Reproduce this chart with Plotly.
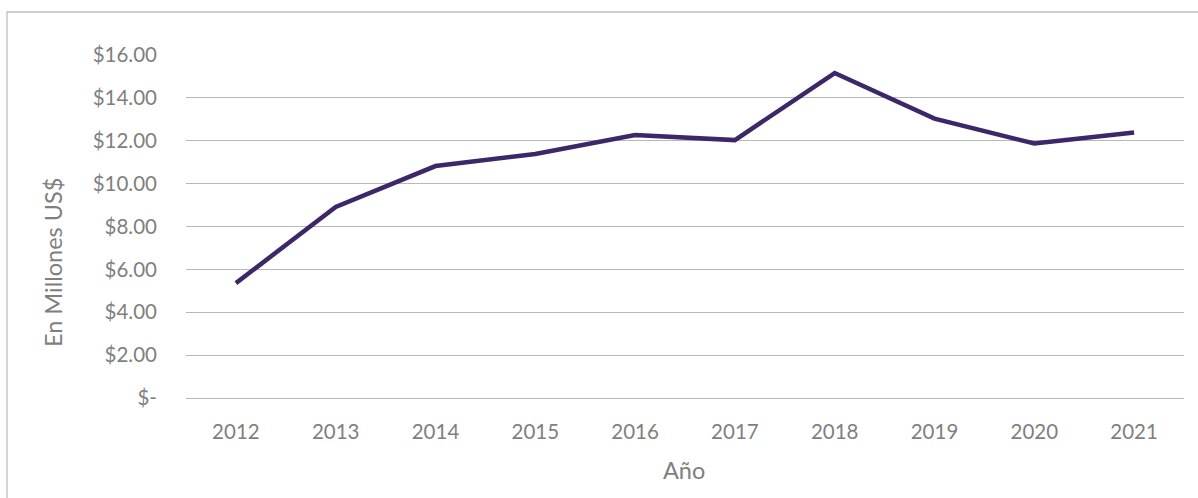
import plotly.graph_objects as go

years = ["2012", "2013", "2014", "2015", "2016", "2017", "2018", "2019", "2020", "2021"]
values = [5.36, 8.91, 10.82, 11.38, 12.27, 12.03, 15.16, 13.03, 11.87, 12.39]
y_tickvals = [0, 2, 4, 6, 8, 10, 12, 14, 16]
y_ticktext = ["$-", "$2.00", "$4.00", "$6.00", "$8.00", "$10.00", "$12.00", "$14.00", "$16.00"]

W, H = 1198, 498
L, R, T, B = 186, 14, 55, 100
pw, ph = W - L - R, H - T - B

fam = "Lato, Carlito, Open Sans, sans-serif"
tick_font = dict(family=fam, size=20.5, color="#7f7f7f")
title_font = dict(family=fam, size=23.5, color="#7f7f7f")

fig = go.Figure()
fig.add_trace(go.Scatter(
    x=list(range(len(years))), y=values, mode="lines",
    line=dict(color="#3d2769", width=4.5), hoverinfo="skip", showlegend=False,
))

fig.update_layout(
    width=W, height=H,
    margin=dict(l=L, r=R, t=T, b=B),
    paper_bgcolor="white", plot_bgcolor="white",
    font=tick_font,
    xaxis=dict(
        range=[-0.5, len(years) - 0.5],
        tickvals=list(range(len(years))), ticktext=years,
        showgrid=False, zeroline=False, showline=False,
        ticks="", ticklabelstandoff=19, tickfont=tick_font,
        fixedrange=True,
    ),
    yaxis=dict(
        range=[0, 16],
        tickvals=y_tickvals, ticktext=y_ticktext,
        showgrid=True, gridcolor="#b8b8b8", gridwidth=1.4,
        zeroline=True, zerolinecolor="#b8b8b8", zerolinewidth=1.4,
        showline=False, ticks="", ticklabelstandoff=28, tickfont=tick_font,
        fixedrange=True,
    ),
    annotations=[
        dict(text="En Millones US$", textangle=-90, xref="paper", yref="paper",
             x=(53 - L) / pw, y=1 - (263 - T) / ph, xanchor="center", yanchor="middle",
             showarrow=False, font=title_font),
        dict(text="Año", xref="paper", yref="paper",
             x=(684 - L) / pw, y=1 - (470 - T) / ph, xanchor="center", yanchor="middle",
             showarrow=False, font=title_font),
    ],
    shapes=[dict(
        type="rect", xref="paper", yref="paper",
        x0=(7 - L) / pw, x1=(W + 20 - L) / pw,
        y0=-(B + 20) / ph, y1=1 + (T - 12) / ph,
        line=dict(color="#bfbfbf", width=1.3), fillcolor="rgba(0,0,0,0)",
        layer="below",
    )],
)

fig.write_html("out.html", config={"displayModeBar": False},
               post_script="document.body.style.margin='0';document.body.style.overflow='hidden';")
